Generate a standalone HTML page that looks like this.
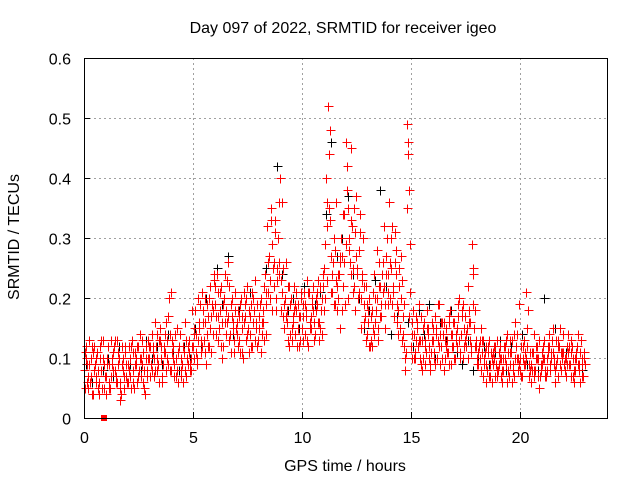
<!DOCTYPE html>
<html><head><meta charset="utf-8"><style>
html,body{margin:0;padding:0;background:#fff;}
svg{display:block;font-family:"Liberation Sans",sans-serif;}
</style></head><body>
<svg id="chart" width="640" height="480" viewBox="0 0 640 480">
<text x="343" y="33" text-anchor="middle" font-size="16">Day 097 of 2022, SRMTID for receiver igeo</text>
<text transform="translate(19,237) rotate(-90)" text-anchor="middle" font-size="16">SRMTID / TECUs</text>
<text x="345" y="471" text-anchor="middle" font-size="16">GPS time / hours</text>
<g id="grid" shape-rendering="crispEdges"></g>
<g id="ticks"></g>
<g id="black" shape-rendering="crispEdges"></g>
<g id="red" shape-rendering="crispEdges"></g>
<rect x="84.5" y="58.5" width="523" height="360" fill="none" stroke="#000" stroke-width="1" shape-rendering="crispEdges"/>
</svg>
<script>
const xTicks=[0,5,10,15,20];
const yTicks=[0,0.1,0.2,0.3,0.4,0.5,0.6];
const yTickLabels=["0","0.1","0.2","0.3","0.4","0.5","0.6"];
const redStep=0.1;
const redA=[0.08,0.12,0.05,0.10,0.04,0.09,0.11,0.06,0.08,0.05,
0.07,0.12,0.05,0.09,0.13,0.06,0.10,0.04,0.08,0.11,
0.06,0.10,0.13,0.05,0.09,0.12,0.07,0.11,0.04,0.08,
0.10,0.14,0.07,0.12,0.09,0.15,0.06,0.11,0.13,0.20,
0.08,0.12,0.10,0.06,0.14,0.09,0.11,0.07,0.13,0.10,
0.12,0.18,0.10,0.15,0.21,0.13,0.09,0.17,0.22,0.14,
0.19,0.24,0.15,0.22,0.12,0.18,0.26,0.14,0.20,0.11,
0.16,0.13,0.20,0.10,0.17,0.22,0.14,0.12,0.18,0.15,
0.13,0.20,0.16,0.24,0.32,0.27,0.35,0.22,0.18,0.30,
0.40,0.21,0.15,0.18,0.12,0.20,0.16,0.14,0.19,0.17,
0.15,0.21,0.18,0.12,0.17,0.22,0.14,0.19,0.16,0.20,
0.25,0.40,0.52,0.33,0.21,0.28,0.18,0.24,0.30,0.22,
0.46,0.35,0.26,0.32,0.22,0.37,0.28,0.20,0.30,0.17,
0.14,0.20,0.12,0.24,0.18,0.15,0.22,0.26,0.19,0.30,
0.36,0.25,0.21,0.28,0.18,0.15,0.23,0.12,0.49,0.38,
0.12,0.18,0.10,0.15,0.13,0.08,0.16,0.11,0.14,0.09,
0.13,0.17,0.10,0.19,0.12,0.08,0.15,0.11,0.18,0.14,
0.16,0.12,0.20,0.14,0.10,0.17,0.22,0.13,0.29,0.15,
0.12,0.09,0.15,0.07,0.11,0.08,0.13,0.06,0.10,0.09,
0.08,0.12,0.06,0.10,0.14,0.07,0.11,0.09,0.16,0.08,
0.10,0.07,0.13,0.21,0.09,0.06,0.11,0.08,0.12,0.05,
0.09,0.13,0.07,0.11,0.08,0.15,0.06,0.10,0.12,0.08,
0.11,0.07,0.14,0.09,0.12,0.06,0.10,0.08,0.13,0.07];
const redB=[0.11,0.06,0.09,0.04,0.12,0.07,0.05,0.10,0.13,0.07,
0.10,0.05,0.13,0.08,0.06,0.11,0.03,0.12,0.07,0.09,
0.12,0.05,0.08,0.11,0.06,0.14,0.09,0.05,0.10,0.13,
0.07,0.11,0.16,0.08,0.13,0.10,0.12,0.08,0.17,0.14,
0.11,0.07,0.15,0.12,0.08,0.06,0.16,0.12,0.09,0.18,
0.15,0.11,0.20,0.13,0.16,0.11,0.19,0.12,0.17,0.24,
0.14,0.17,0.21,0.10,0.16,0.23,0.13,0.19,0.15,0.21,
0.12,0.19,0.15,0.21,0.13,0.11,0.19,0.16,0.23,0.12,
0.17,0.14,0.22,0.19,0.26,0.20,0.29,0.33,0.25,0.36,
0.23,0.17,0.26,0.13,0.19,0.15,0.22,0.18,0.12,0.21,
0.19,0.14,0.23,0.16,0.20,0.13,0.18,0.23,0.15,0.24,
0.20,0.32,0.44,0.27,0.19,0.36,0.24,0.15,0.27,0.34,
0.38,0.28,0.45,0.21,0.31,0.25,0.34,0.23,0.19,0.22,
0.18,0.13,0.21,0.16,0.28,0.22,0.17,0.32,0.24,0.21,
0.26,0.19,0.31,0.16,0.22,0.27,0.14,0.10,0.44,0.21,
0.16,0.10,0.13,0.19,0.09,0.15,0.12,0.18,0.10,0.16,
0.10,0.14,0.19,0.09,0.16,0.13,0.11,0.17,0.09,0.12,
0.13,0.19,0.10,0.17,0.15,0.12,0.16,0.11,0.24,0.18,
0.09,0.13,0.11,0.10,0.06,0.12,0.09,0.11,0.07,0.13,
0.11,0.07,0.10,0.13,0.08,0.11,0.06,0.14,0.10,0.19,
0.07,0.12,0.09,0.15,0.11,0.08,0.14,0.10,0.07,0.09,
0.12,0.08,0.10,0.14,0.11,0.09,0.13,0.07,0.15,0.11,
0.08,0.12,0.09,0.11,0.07,0.10,0.14,0.06,0.09,0.11];
const redC=[0.05,0.09,0.13,0.07,0.11,0.06,0.08,0.12,0.05,0.09,
0.04,0.09,0.07,0.11,0.08,0.13,0.06,0.09,0.05,0.07,
0.09,0.07,0.11,0.09,0.12,0.08,0.10,0.06,0.12,0.10,
0.12,0.08,0.10,0.14,0.06,0.12,0.09,0.14,0.10,0.08,
0.13,0.09,0.07,0.11,0.10,0.12,0.08,0.10,0.11,0.08,
0.10,0.14,0.13,0.19,0.12,0.16,0.14,0.20,0.11,0.18,
0.22,0.13,0.18,0.16,0.20,0.14,0.17,0.11,0.16,0.18,
0.14,0.17,0.11,0.16,0.20,0.15,0.17,0.21,0.13,0.19,
0.15,0.11,0.18,0.14,0.21,0.23,0.18,0.26,0.20,0.24,
0.18,0.25,0.20,0.16,0.22,0.13,0.18,0.21,0.15,0.13,
0.17,0.19,0.13,0.21,0.15,0.18,0.20,0.16,0.22,0.14,
0.18,0.23,0.35,0.21,0.26,0.19,0.22,0.27,0.18,0.26,
0.29,0.20,0.33,0.25,0.18,0.24,0.21,0.15,0.22,0.13,
0.16,0.12,0.18,0.14,0.20,0.26,0.19,0.21,0.15,0.24,
0.20,0.32,0.17,0.24,0.14,0.20,0.17,0.08,0.35,0.17,
0.10,0.14,0.17,0.12,0.10,0.13,0.09,0.15,0.12,0.11,
0.15,0.09,0.13,0.14,0.10,0.16,0.12,0.09,0.14,0.16,
0.10,0.15,0.13,0.18,0.12,0.14,0.10,0.16,0.19,0.12,
0.10,0.12,0.08,0.13,0.09,0.11,0.07,0.10,0.12,0.07,
0.09,0.10,0.08,0.12,0.06,0.09,0.13,0.07,0.12,0.10,
0.08,0.10,0.11,0.12,0.07,0.09,0.08,0.12,0.10,0.07,
0.11,0.10,0.08,0.12,0.10,0.11,0.08,0.13,0.09,0.10,
0.09,0.10,0.11,0.07,0.10,0.08,0.12,0.09,0.07,0.10];
const redD=[0.10,0.07,0.06,0.12,0.08,0.10,0.04,0.13,0.10,0.07,
0.09,0.06,0.10,0.12,0.07,0.09,0.05,0.10,0.12,0.06,
0.08,0.12,0.06,0.10,0.07,0.10,0.13,0.08,0.07,0.12,
0.09,0.12,0.08,0.10,0.13,0.07,0.11,0.16,0.09,0.21,
0.10,0.14,0.08,0.12,0.07,0.11,0.13,0.09,0.08,0.12,
0.14,0.09,0.16,0.11,0.18,0.20,0.12,0.15,0.19,0.23,
0.17,0.21,0.12,0.19,0.24,0.16,0.22,0.17,0.13,0.15,
0.18,0.11,0.17,0.19,0.14,0.18,0.12,0.20,0.16,0.13,
0.19,0.16,0.13,0.21,0.27,0.33,0.25,0.31,0.23,0.26,
0.36,0.19,0.17,0.22,0.14,0.17,0.19,0.12,0.17,0.20,
0.13,0.17,0.21,0.15,0.19,0.16,0.21,0.13,0.18,0.22,
0.29,0.36,0.48,0.24,0.30,0.23,0.20,0.26,0.34,0.19,
0.42,0.30,0.24,0.35,0.27,0.20,0.31,0.24,0.16,0.19,
0.12,0.17,0.15,0.20,0.13,0.17,0.24,0.22,0.27,0.19,
0.30,0.22,0.26,0.19,0.25,0.13,0.19,0.11,0.46,0.29,
0.14,0.11,0.16,0.13,0.17,0.10,0.13,0.15,0.08,0.13,
0.11,0.15,0.12,0.16,0.14,0.10,0.13,0.16,0.12,0.10,
0.14,0.17,0.11,0.19,0.13,0.15,0.18,0.12,0.25,0.13,
0.11,0.10,0.13,0.09,0.12,0.07,0.11,0.09,0.12,0.08,
0.10,0.08,0.12,0.09,0.11,0.13,0.08,0.10,0.14,0.09,
0.12,0.09,0.10,0.18,0.08,0.11,0.07,0.10,0.13,0.08,
0.10,0.07,0.12,0.09,0.13,0.10,0.09,0.12,0.11,0.14,
0.10,0.09,0.12,0.13,0.08,0.11,0.09,0.11,0.10,0.09];
const blackStep=0.25;
const blackVals=[0.09,0.06,0.11,0.08,0.10,0.07,0.12,0.05,0.09,0.11,0.08,0.13,
0.10,0.12,0.09,0.14,0.11,0.08,0.12,0.10,0.15,0.12,0.20,0.17,
0.25,0.19,0.27,0.14,0.18,0.16,0.21,0.13,0.20,0.25,0.33,0.42,
0.24,0.18,0.20,0.15,0.22,0.16,0.19,0.21,0.34,0.46,0.27,0.30,
0.37,0.24,0.20,0.15,0.18,0.23,0.38,0.22,0.14,0.17,0.13,0.16,
0.12,0.18,0.14,0.19,0.10,0.16,0.13,0.18,0.11,0.09,0.13,0.08,
0.10,0.12,0.09,0.11,0.13,0.08,0.12,0.10,0.14,0.09,0.11,0.08,
0.20,0.12,0.15,0.09,0.11,0.07,0.10,0.08];
const markerTime=[0.9];

const NS="http://www.w3.org/2000/svg";
function xS(t){return 84+t*(523/24);}
function yS(v){return 418-v*600;}
function mk(tag,attrs,parent){const e=document.createElementNS(NS,tag);for(const k in attrs)e.setAttribute(k,attrs[k]);parent.appendChild(e);return e;}
const grid=document.getElementById('grid'),ticks=document.getElementById('ticks');
xTicks.forEach(t=>{
  const x=Math.round(xS(t))+0.5;
  if(t>0){const l=mk('line',{x1:x,y1:58,x2:x,y2:418,stroke:'#a0a0a0','stroke-dasharray':'2,3'},grid);
  
  }
  const tk=mk('line',{x1:x,y1:418,x2:x,y2:412,stroke:'#000','shape-rendering':'crispEdges'},ticks);
  
  
  const lb=mk('text',{x:x,y:443,'text-anchor':'middle','font-size':'16'},ticks);
  lb.textContent=String(t);
  
  
});
yTicks.forEach((v,i)=>{
  const y=Math.round(yS(v))+0.5;
  if(v>0&&v<0.6){const l=mk('line',{x1:84,y1:y,x2:607,y2:y,stroke:'#a0a0a0','stroke-dasharray':'2,3'},grid);
  
  }
  const tk=mk('line',{x1:84,y1:y,x2:90,y2:y,stroke:'#000','shape-rendering':'crispEdges'},ticks);
  
  
  const lb=mk('text',{x:71,y:y+6,'text-anchor':'end','font-size':'16'},ticks);
  lb.textContent=yTickLabels[i];
  
  
});
function plus(parent,t,v,color,name){
  const x=Math.round(xS(t))+0.5,y=Math.round(yS(v))+0.5;
  const p=mk('path',{d:`M${x-4} ${y}H${x+5}M${x} ${y-4}V${y+5}`,stroke:color,'stroke-width':'1',fill:'none'},parent);
  
  
}
const gb=document.getElementById('black'),gr=document.getElementById('red');
blackVals.forEach((v,i)=>plus(gb,i*blackStep+0.1,v,'#000','black-point'));
redA.forEach((v,i)=>plus(gr,i*redStep,v,'#ff0000','red-point'));
redB.forEach((v,i)=>plus(gr,i*redStep+0.05,v,'#ff0000','red-point'));
redC.forEach((v,i)=>plus(gr,i*redStep+0.03,v,'#ff0000','red-point'));
redD.forEach((v,i)=>plus(gr,i*redStep+0.07,v,'#ff0000','red-point'));
markerTime.forEach(t=>{
  const r=mk('rect',{x:Math.round(xS(t))-3,y:Math.round(yS(0))-3,width:6,height:6,fill:'#ff0000'},gr);
  
  
});
</script>
</body></html>
